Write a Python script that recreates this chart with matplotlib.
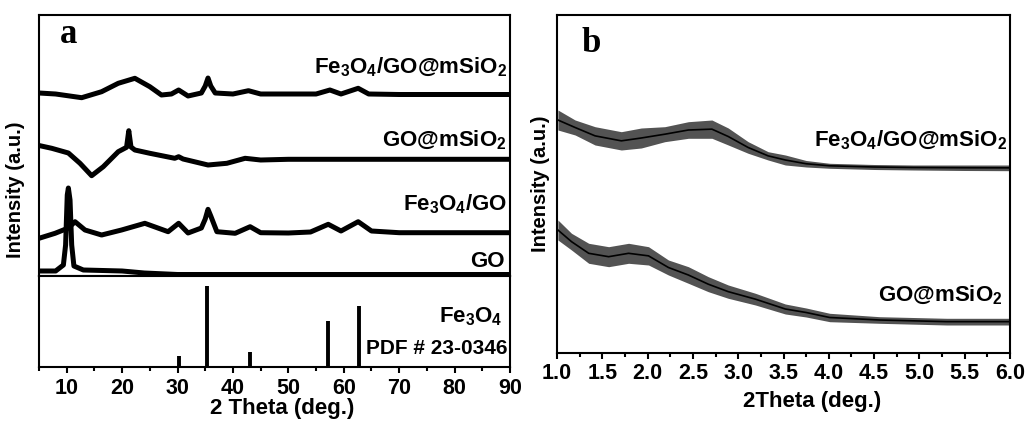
import matplotlib
matplotlib.use("Agg")
import matplotlib.pyplot as plt
from matplotlib.ticker import MultipleLocator

plt.rcParams['font.family'] = ['Liberation Sans', 'DejaVu Sans']
plt.rcParams['mathtext.fontset'] = 'custom'
plt.rcParams['mathtext.rm'] = 'Liberation Sans:bold'
plt.rcParams['mathtext.it'] = 'Liberation Sans:bold'
plt.rcParams['mathtext.bf'] = 'Liberation Sans:bold'
plt.rcParams['mathtext.default'] = 'regular'

# ---------------- Panel a data (2theta in deg, intensity in a.u.) ----------------
go_x = [5, 8, 9.4, 9.8, 10.1, 10.3, 10.6, 10.9, 11.3, 13, 20, 24, 30, 50, 70, 90]
go_y = [5, 5, 11, 31, 81, 88, 76, 31, 10, 6, 5, 3, 1.5, 1.5, 1.5, 1.5]

fego_x = [5, 7.9, 10.3, 11.5, 13.3, 16.3, 19.9, 24.1, 28.3, 30.2, 31.9, 34.3, 35.0,
          35.5, 36.0, 37.1, 40.4, 43.1, 45, 50, 54, 57.2, 59.5, 62.6, 65, 70, 80, 90]
fego_y = [37.7, 42.7, 48, 54.3, 46, 41, 46, 52.7, 44.3, 52.7, 43, 48, 57,
          66.7, 60, 44.3, 42.7, 49.3, 43.3, 43, 44, 51.7, 45, 54.3, 45, 43.3, 43.3, 43.3]

gosi_x = [5, 7.3, 10.3, 12.4, 14.5, 16.6, 19.3, 20.8, 21.2, 21.6, 22.3, 25, 29.5,
          30.2, 31, 35.5, 38.9, 42.2, 45, 50, 60, 70, 80, 90]
gosi_y = [130.5, 127.7, 123, 112.7, 100.3, 109.3, 124.3, 128.7, 145.3, 129, 126, 122.7, 117.7,
          119.3, 117, 111, 112.7, 117.7, 116, 116.7, 116.7, 116.7, 116.7, 116.7]

fegosi_x = [5, 8, 12.7, 16.3, 19.3, 22.3, 25, 27.1, 28.9, 30.2, 31.9, 34.3, 35.0, 35.5,
            36.0, 36.8, 40, 42.8, 45, 50, 55, 57.5, 59.5, 62.6, 64.5, 70, 80, 90]
fegosi_y = [183, 182, 178.3, 184.3, 192.7, 197.7, 189.3, 181, 182, 186, 180, 183, 190, 198,
            190, 183, 182, 185.3, 182, 182, 182, 186, 182, 187.7, 182, 181.5, 181.5, 181.5]

pdf_pos = [30.2, 35.4, 43.0, 57.2, 62.7]
pdf_int = [11, 81, 15, 46, 61]

a_ticks = [10, 20, 30, 40, 50, 60, 70, 80, 90]

# ---------------- Panel b data (noise band: upper / lower envelopes) ----------------
b1_x = [1.01, 1.20, 1.42, 1.71, 1.93, 2.19, 2.45, 2.71, 2.89, 3.11, 3.33, 3.52, 3.75,
        4.01, 4.50, 4.93, 5.50, 6.00]
b1_hi = [243, 233, 226.3, 221.3, 225, 226.3, 231.3, 233, 225, 211.3, 201.3, 198, 192.5,
         189.7, 188.5, 188, 188, 188]
b1_lo = [223, 218, 208, 203, 205, 211.3, 214.7, 214.7, 208, 199.7, 193, 188, 186,
         184.7, 183.5, 183, 182.5, 182.3]

b2_x = [1.01, 1.16, 1.35, 1.57, 1.79, 2.01, 2.23, 2.45, 2.67, 2.89, 3.19, 3.52, 3.75,
        4.01, 4.56, 5.30, 6.00]
b2_hi = [133, 119.7, 109.7, 106.3, 109.7, 106.3, 93, 86.3, 76.3, 68, 59.7, 49, 45,
         39.7, 36.3, 34.7, 34.7]
b2_lo = [113, 103, 89.7, 86.3, 89.7, 88, 78, 69.7, 61.3, 54.7, 48, 39, 36,
         31.3, 29.7, 28, 28]

b_ticks = [1.0, 1.5, 2.0, 2.5, 3.0, 3.5, 4.0, 4.5, 5.0, 5.5, 6.0]

W, H = 1029, 426
fig = plt.figure(figsize=(W / 100, H / 100), dpi=100)


def fx(px):
    return px / W


def fy(py):
    return 1 - py / H


SPW = 1.5
LABFS = 16
TICKFS = 15.5
AXFS = 16
lab_kw = dict(fontsize=LABFS, fontweight='bold', ha='right', va='baseline')

# ---- panel a ----
ax_top = fig.add_axes([fx(39), fy(276), fx(510) - fx(39), fy(15) - fy(276)])
ax_bot = fig.add_axes([fx(39), fy(367), fx(510) - fx(39), fy(276) - fy(367)], sharex=ax_top)

lw_a = 3.6
for xs, ys in [(go_x, go_y), (fego_x, fego_y), (gosi_x, gosi_y), (fegosi_x, fegosi_y)]:
    ax_top.plot(xs, ys, color='black', lw=lw_a, solid_joinstyle='round')
ax_top.set_ylim(0, 261)
ax_top.set_xlim(5, 90)
ax_top.tick_params(axis='both', which='both', bottom=False, left=False, labelbottom=False,
                   labelleft=False)
for s in ax_top.spines.values():
    s.set_linewidth(SPW)

ax_bot.vlines(pdf_pos, 0, pdf_int, color='black', lw=2.8)
ax_bot.set_ylim(0, 91)
ax_bot.set_xlim(5, 90)
ax_bot.set_xticks(a_ticks)
ax_bot.set_xticklabels([str(t) for t in a_ticks])
ax_bot.xaxis.set_minor_locator(MultipleLocator(5))
ax_bot.set_yticks([])
ax_bot.tick_params(axis='x', which='major', direction='out', length=4.5, width=SPW, pad=3.5,
                   labelsize=TICKFS)
ax_bot.tick_params(axis='x', which='minor', direction='out', length=3, width=SPW)
for lab in ax_bot.get_xticklabels():
    lab.set_fontweight('bold')
for s in ax_bot.spines.values():
    s.set_linewidth(SPW)
ax_bot.set_xlabel('2 Theta (deg.)', fontsize=AXFS, fontweight='bold')
ax_bot.xaxis.set_label_coords((282 - 39) / 471, (367 - 398) / 91)

fig.text(fx(16), fy(190), 'Intensity (a.u.)', rotation=90, ha='center', va='center',
         fontsize=14.5, fontweight='bold')
fig.text(fx(60), fy(43), 'a', family=['Liberation Serif'], fontweight='bold',
         fontsize=25, ha='left', va='baseline')

fig.text(fx(507), fy(73.3), r'Fe$_3$O$_4$/GO@mSiO$_2$', **lab_kw)
fig.text(fx(507), fy(146.7), r'GO@mSiO$_2$', **lab_kw)
fig.text(fx(507), fy(210), r'Fe$_3$O$_4$/GO', **lab_kw)
fig.text(fx(505), fy(267.3), 'GO', **lab_kw)
fig.text(fx(502), fy(322.7), r'Fe$_3$O$_4$', **lab_kw)
fig.text(fx(507), fy(354), 'PDF # 23-0346', fontsize=15, fontweight='bold', ha='right',
         va='baseline')

# ---- panel b ----
axb = fig.add_axes([fx(557), fy(353), fx(1010) - fx(557), fy(15) - fy(353)])
axb.fill_between(b1_x, b1_lo, b1_hi, color='#111111', alpha=0.72, lw=0)
axb.plot(b1_x, [(h + l) / 2 for h, l in zip(b1_hi, b1_lo)], color='black', lw=1.2)
axb.fill_between(b2_x, b2_lo, b2_hi, color='#111111', alpha=0.72, lw=0)
axb.plot(b2_x, [(h + l) / 2 for h, l in zip(b2_hi, b2_lo)], color='black', lw=1.2)
axb.set_xlim(1.0, 6.0)
axb.set_ylim(0, 338)
axb.set_xticks(b_ticks)
axb.set_xticklabels(['%.1f' % t for t in b_ticks])
axb.xaxis.set_minor_locator(MultipleLocator(0.25))
axb.set_yticks([])
axb.tick_params(axis='x', which='major', direction='out', length=4.5, width=SPW, pad=2.5,
                labelsize=TICKFS)
axb.tick_params(axis='x', which='minor', direction='out', length=3, width=SPW)
for lab in axb.get_xticklabels():
    lab.set_fontweight('bold')
for s in axb.spines.values():
    s.set_linewidth(SPW)
axb.set_xlabel('2Theta (deg.)', fontsize=AXFS, fontweight='bold')
axb.xaxis.set_label_coords((811.7 - 557) / 453, (353 - 391) / 338)

fig.text(fx(540), fy(184), 'Intensity (a.u.)', rotation=90, ha='center', va='center',
         fontsize=14.5, fontweight='bold')
fig.text(fx(581.7), fy(52.5), 'b', family=['Liberation Serif'], fontweight='bold',
         fontsize=25, ha='left', va='baseline')
fig.text(fx(1006.7), fy(146.7), r'Fe$_3$O$_4$/GO@mSiO$_2$', **lab_kw)
fig.text(fx(1003), fy(301.7), r'GO@mSiO$_2$', **lab_kw)

fig.savefig('out.png', dpi=100, facecolor='white')
